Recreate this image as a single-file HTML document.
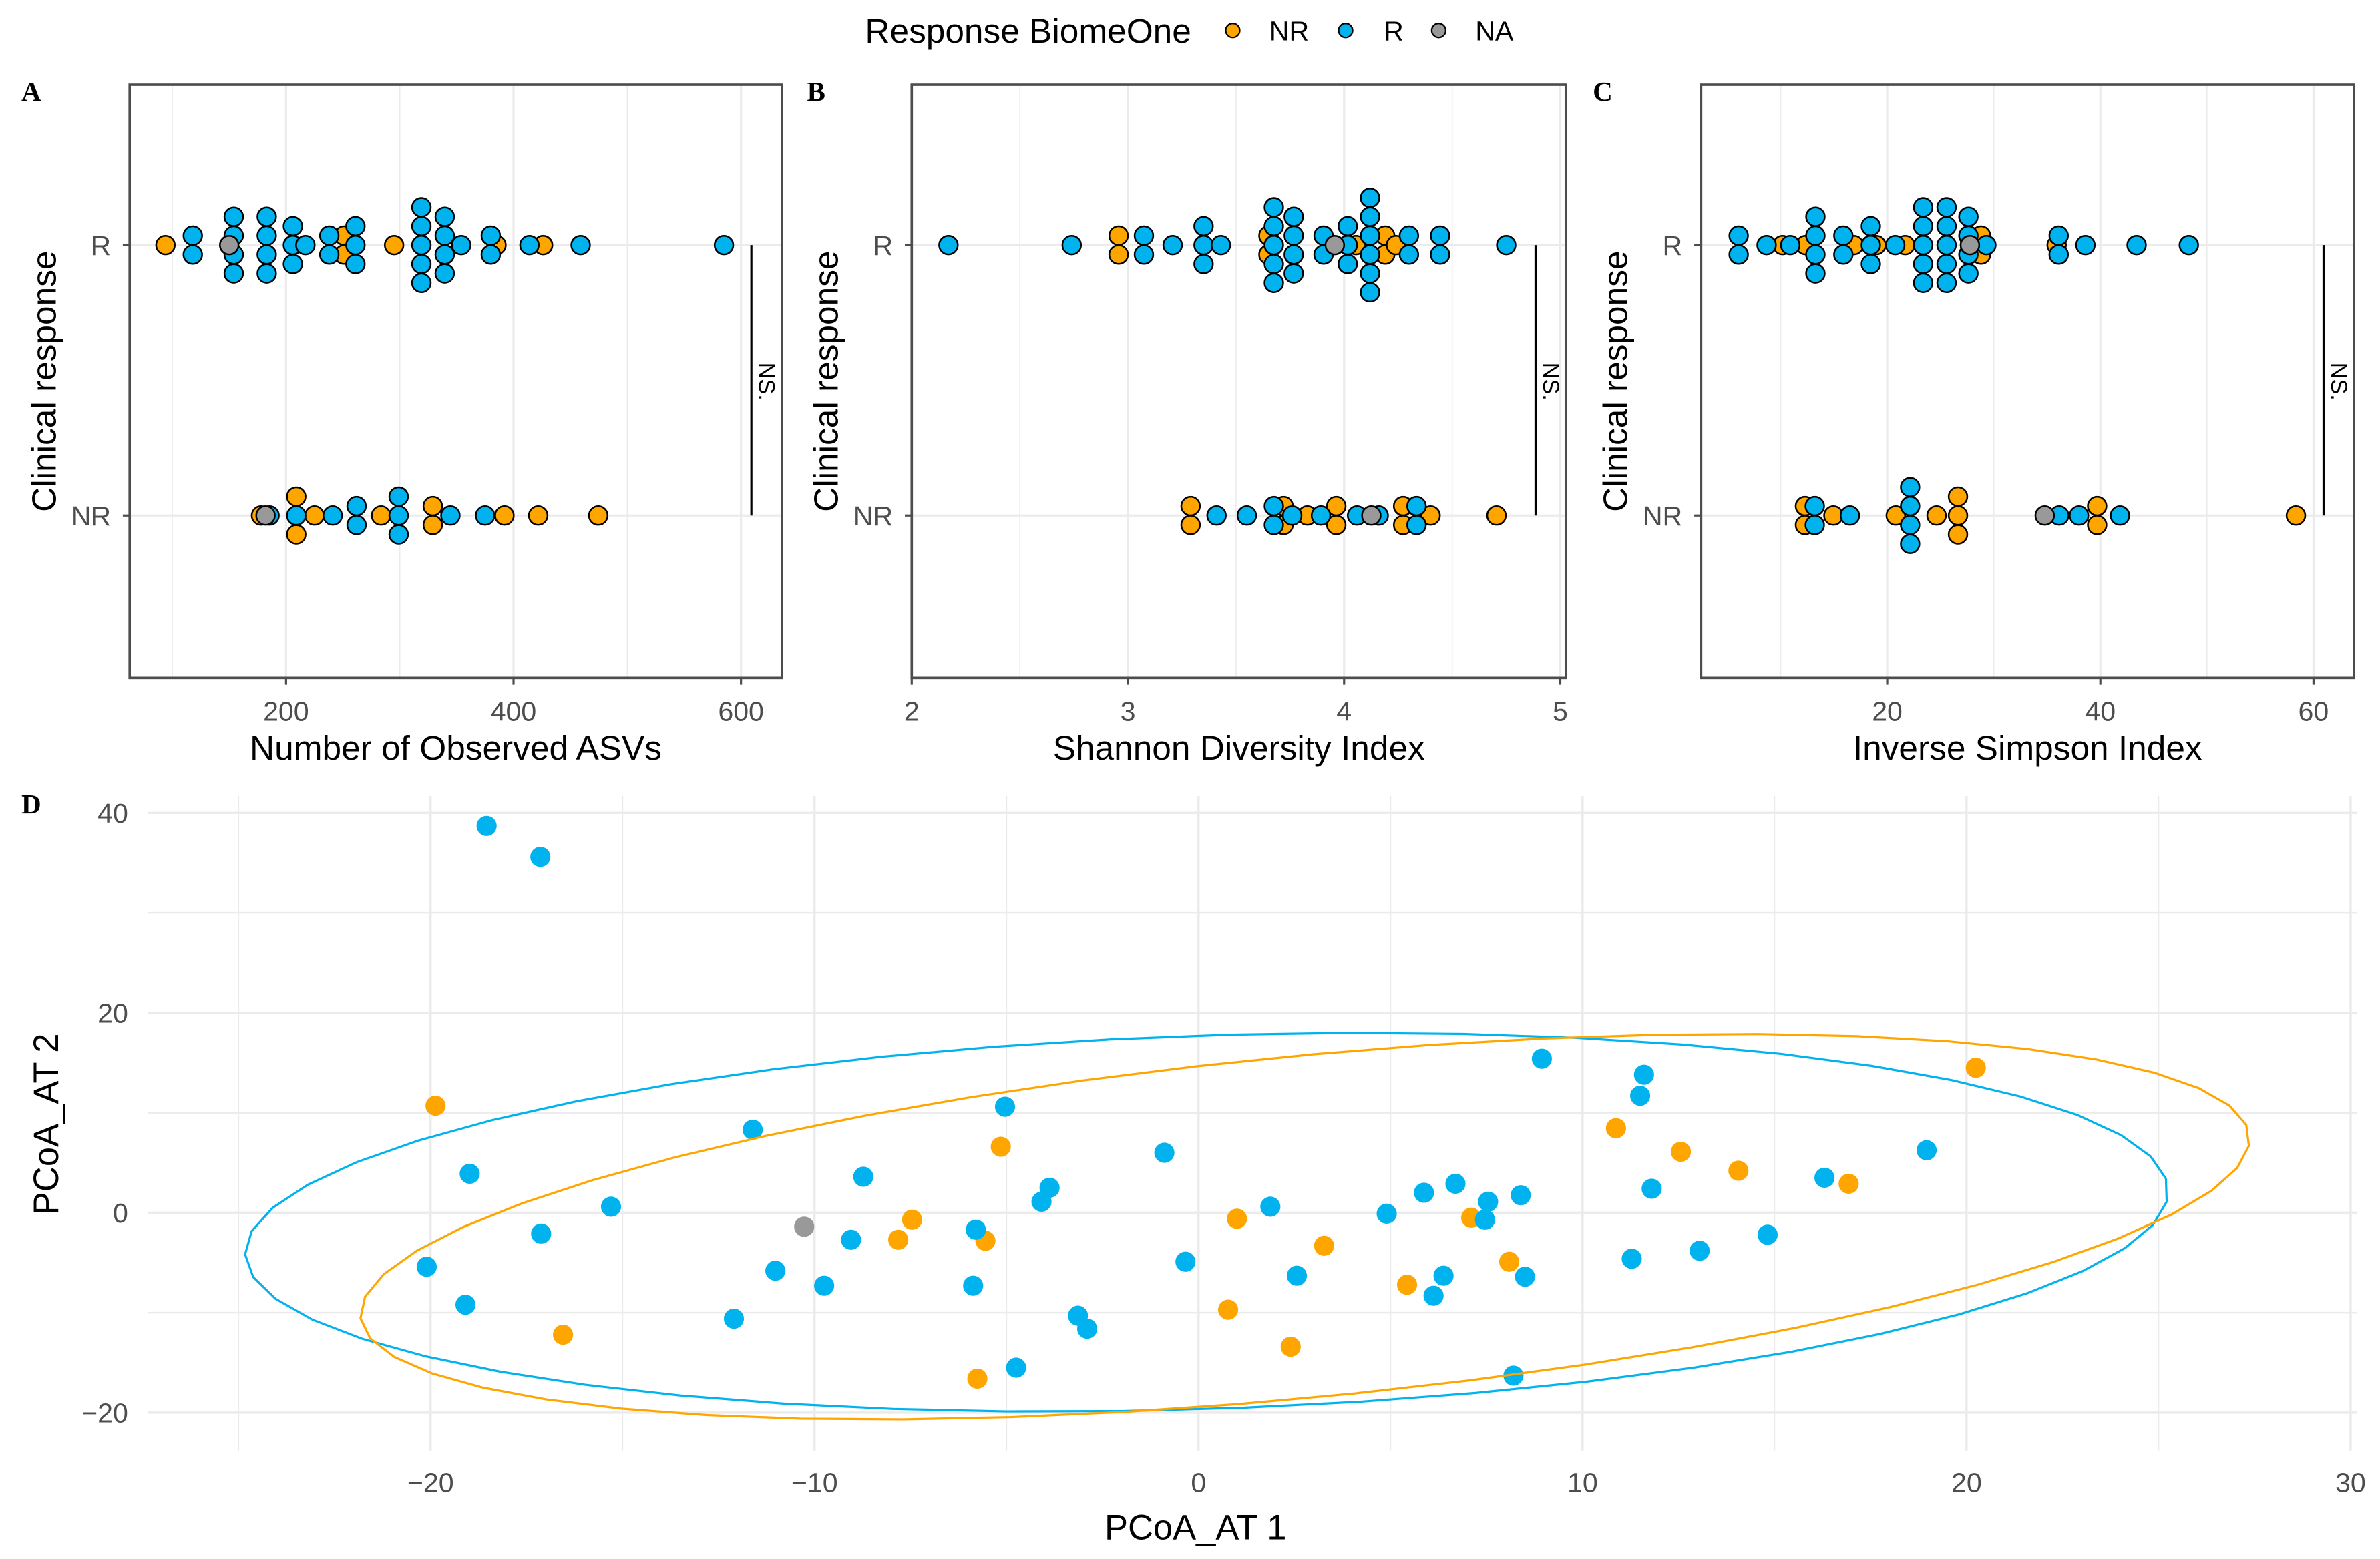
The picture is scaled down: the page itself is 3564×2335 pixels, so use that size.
<!DOCTYPE html>
<html><head><meta charset="utf-8"><style>
html,body{margin:0;padding:0;background:#fff}
svg{display:block}
text{font-family:"Liberation Sans",Arial,sans-serif}
</style></head><body>
<svg id="fig" xmlns="http://www.w3.org/2000/svg" width="3564" height="2335" viewBox="0 0 1560 1022" preserveAspectRatio="none">
<rect x="0" y="0" width="1560" height="1022" fill="#fff"/>
<g id="legend">
<text x="567" y="28" font-size="22.5" fill="#000">Response BiomeOne</text>
<circle cx="808" cy="20" r="4.6" fill="#FFA500" stroke="#000" stroke-width="1"/>
<text x="832" y="26.5" font-size="18">NR</text>
<circle cx="882" cy="20" r="4.6" fill="#00B2EE" stroke="#000" stroke-width="1"/>
<text x="907" y="26.5" font-size="18">R</text>
<circle cx="943" cy="20" r="4.6" fill="#999999" stroke="#000" stroke-width="1"/>
<text x="967" y="26.5" font-size="18">NA</text>
</g>
</svg>
<script>
// ---------- Panel A data (Observed ASVs) ----------
const aRVals = [94,118,118,150,154,154,154,154,183,183,183,183,206,206,206,217,238,238,251,251,261,261,261,295,319,319,319,319,319,339.5,339.5,339.5,339.5,354,380,380,385,414,426,459,585];
const aRGrp  = ['NR','R','R','NA','R','R','R','R','R','R','R','R','R','R','R','R','R','R','NR','NR','R','R','R','NR','R','R','R','R','R','R','R','R','R','R','R','R','NR','R','NR','R','R'];
const aNRVals = [178,182,185.5,209,209,209,225,241,262,262,283.5,299,299,299,329,329,344.5,375,392,421.7,474.5];
const aNRGrp  = ['NR','NA','R','NR','R','NR','NR','R','R','R','NR','R','R','R','NR','NR','R','R','NR','NR','NR'];
const aTicks = [200,400,600];
const aTickLabels = ['200','400','600'];
const aMinor = [100,300,500];
// ---------- Panel B data (Shannon) ----------
const bRVals = [2.17,2.74,2.957,2.957,3.074,3.074,3.207,3.35,3.35,3.35,3.43,3.65,3.65,3.675,3.675,3.675,3.675,3.675,3.767,3.767,3.767,3.767,3.905,3.905,3.957,4.017,4.017,4.017,4.055,4.12,4.12,4.12,4.12,4.12,4.12,4.19,4.19,4.24,4.30,4.30,4.444,4.444,4.75];
const bRGrp  = ['R','R','NR','NR','R','R','R','R','R','R','R','NR','NR','R','R','R','R','R','R','R','R','R','R','R','NA','R','R','R','NR','R','R','R','R','R','R','NR','NR','NR','R','R','R','R','R'];
const bNRVals = [3.29,3.29,3.41,3.55,3.675,3.675,3.72,3.72,3.76,3.83,3.893,3.964,3.964,4.06,4.126,4.16,4.273,4.273,4.335,4.335,4.40,4.705];
const bNRGrp  = ['NR','NR','R','R','R','R','NR','NR','R','NR','R','NR','NR','R','NA','R','NR','NR','R','R','NR','NR'];
const bTicks = [2,3,4,5];
const bTickLabels = ['2','3','4','5'];
const bMinor = [2.5,3.5,4.5];
// ---------- Panel C data (Inverse Simpson) ----------
const cRVals = [6.06,6.06,8.68,10.18,10.9,12.33,13.26,13.26,13.26,13.26,15.88,15.88,16.87,18.46,18.46,18.46,18.97,20.75,21.68,23.37,23.37,23.37,23.37,23.37,25.57,25.57,25.57,25.57,25.57,27.62,27.62,27.62,27.62,27.76,28.8,28.8,29.3,35.9,36.09,36.09,38.6,43.4,48.3];
const cRGrp  = ['R','R','R','NR','R','NR','R','R','R','R','R','R','NR','R','R','R','NR','R','NR','R','R','R','R','R','R','R','R','R','R','R','R','R','R','NA','NR','NR','R','NR','R','R','R','R','R'];
const cNRVals = [12.28,12.28,13.2,13.2,14.95,16.5,20.8,22.15,22.15,22.15,22.15,24.63,26.64,26.64,26.64,34.78,36.14,38.0,39.7,39.7,41.84,58.35];
const cNRGrp  = ['NR','NR','R','R','NR','R','NR','R','R','R','R','NR','NR','NR','NR','NA','R','R','NR','NR','R','NR'];
const cTicks = [20,40,60];
const cTickLabels = ['20','40','60'];
const cMinor = [10,30,50];
// ---------- Panel D data (PCoA) ----------
const pc1 = [-18.54,-17.14,-19.87,-11.61,-18.98,-15.3,-17.12,-20.1,-19.09,-16.55,-5.04,-5.15,-0.89,-8.73,-3.88,-4.09,-10.27,-7.46,-7.82,-9.05,-5.8,-5.55,-11.02,-9.75,-5.87,-12.1,-3.14,-2.9,-4.75,-5.76,-0.34,1.0,1.87,3.27,2.56,0.77,2.4,4.9,5.87,6.69,7.1,7.46,7.54,8.39,6.38,6.12,5.43,8.09,8.5,8.2,8.94,11.6,11.5,10.87,12.56,14.06,18.96,16.3,16.93,20.24,11.8,14.82,13.05,11.28];
const pc2 = [38.7,35.6,10.7,8.3,3.9,0.6,-2.1,-5.4,-9.2,-12.2,10.6,6.6,6.0,3.6,2.5,1.1,-1.4,-0.7,-2.7,-2.7,-1.7,-2.8,-5.8,-7.3,-7.3,-10.6,-10.3,-11.6,-15.5,-16.6,-4.9,-0.6,0.6,-3.3,-6.3,-9.7,-13.4,-0.1,2.0,2.9,-0.5,-0.7,1.1,1.75,-6.3,-8.3,-7.2,-4.9,-6.4,-16.3,15.4,13.8,11.7,8.45,6.1,4.2,6.25,3.5,2.9,14.5,2.4,-2.2,-3.8,-4.6];
const pcGrp = ['R','R','NR','R','R','R','R','R','R','NR','R','NR','R','R','R','R','NA','NR','NR','R','R','NR','R','R','R','R','R','R','R','NR','R','NR','R','NR','R','NR','NR','R','R','R','NR','R','R','R','R','R','NR','NR','R','R','R','R','R','NR','NR','NR','R','R','NR','NR','R','R','R','R'];
const dXTicks = [-20,-10,0,10,20,30];
const dXTickLabels = ['\u221220','\u221210','0','10','20','30'];
const dXMinor = [-25,-15,-5,5,15,25];
const dYTicks = [40,20,0,-20];
const dYTickLabels = ['40','20','0','\u221220'];
const dYMinor = [30,10,-10];

const NS='http://www.w3.org/2000/svg';
const svg=document.getElementById('fig');
const COL={NR:'#FFA500',R:'#00B2EE',NA:'#999999'};
function mk(tag,attrs,parent){const e=document.createElementNS(NS,tag);for(const k in attrs)e.setAttribute(k,attrs[k]);(parent||svg).appendChild(e);return e;}
const SERIF='font-family:"Liberation Serif","DejaVu Serif",serif;font-weight:bold';

function dotPanel(cfg){
  const g=mk('g',{});
  
  
  const top=55.6,bot=444.4,yR=160.7,yNR=338;
  const X=v=>cfg.x0+(v-cfg.v0)*cfg.k;
  cfg.minor.forEach(v=>{const l=mk('line',{x1:X(v),x2:X(v),y1:top,y2:bot,stroke:'#ebebeb','stroke-width':0.7},g);
    
    });
  cfg.ticks.forEach(v=>{const l=mk('line',{x1:X(v),x2:X(v),y1:top,y2:bot,stroke:'#ebebeb','stroke-width':1.4},g);
    
    });
  [yR,yNR].forEach(y=>{const l=mk('line',{x1:cfg.left,x2:cfg.right,y1:y,y2:y,stroke:'#ebebeb','stroke-width':1.4},g);
    
    });
  const sp=12.4;
  const rows=[[cfg.rV,cfg.rG,yR],[cfg.nV,cfg.nG,yNR]];
  ['NR','R','NA'].forEach(grp=>{
    rows.forEach(([vals,grps,yc])=>{
      const groups={};
      vals.forEach((v,i)=>{(groups[v]=groups[v]||[]).push(i);});
      Object.keys(groups).forEach(key=>{
        const idx=groups[key];const n=idx.length;
        idx.forEach((i,j)=>{
          if(grps[i]!==grp)return;
          const c=mk('circle',{cx:X(vals[i]),cy:yc+(j-(n-1)/2)*sp,r:6.1,fill:COL[grp],stroke:'#000','stroke-width':1.1},g);
          
          
        });
      });
    });
  });
  const b=mk('rect',{x:cfg.left,y:top,width:cfg.right-cfg.left,height:bot-top,fill:'none',stroke:'#4d4d4d','stroke-width':1.6},g);
  
  
  cfg.ticks.forEach((v,i)=>{
    const t=mk('line',{x1:X(v),x2:X(v),y1:bot,y2:bot+4.5,stroke:'#4d4d4d','stroke-width':1.4},g);
    
    
    const tx=mk('text',{x:X(v),y:472.5,'font-size':18,fill:'#4d4d4d','text-anchor':'middle'},g);
    tx.textContent=cfg.labels[i];
    
    
  });
  [['R',yR],['NR',yNR]].forEach(([lab,y])=>{
    const t=mk('line',{x1:cfg.left-4.5,x2:cfg.left,y1:y,y2:y,stroke:'#4d4d4d','stroke-width':1.4},g);
    
    
    const tx=mk('text',{x:cfg.left-12.3,y:y+6.4,'font-size':18,fill:'#4d4d4d','text-anchor':'end'},g);
    tx.textContent=lab;
    
    
  });
  const xt=mk('text',{x:(cfg.left+cfg.right)/2,y:498,'font-size':22.5,'text-anchor':'middle'},g);
  xt.textContent=cfg.xtitle;
  
  
  const yt=mk('text',{x:0,y:0,'font-size':22.5,'text-anchor':'middle',transform:`translate(${cfg.left-48.5},250) rotate(-90)`},g);
  yt.textContent='Clinical response';
  
  
  const nl=mk('line',{x1:cfg.right-20,x2:cfg.right-20,y1:yR,y2:yNR,stroke:'#000','stroke-width':1.4},g);
  
  
  const nt=mk('text',{x:0,y:0,'font-size':15,'text-anchor':'middle',transform:`translate(${cfg.right-15},250) rotate(90)`},g);
  nt.textContent='NS.';
  
  
  const pl=mk('text',{x:cfg.letterX,y:66,'font-size':18,style:SERIF},g);
  pl.textContent=cfg.letter;
  
  
}

dotPanel({name:'panel-a-observed-asvs',letter:'A',letterX:14,left:85,right:512.5,x0:187.5,v0:200,k:0.7455,ticks:aTicks,labels:aTickLabels,minor:aMinor,rV:aRVals,rG:aRGrp,nV:aNRVals,nG:aNRGrp,xtitle:'Number of Observed ASVs'});
dotPanel({name:'panel-b-shannon',letter:'B',letterX:529,left:597.6,right:1026.5,x0:597.6,v0:2,k:141.7,ticks:bTicks,labels:bTickLabels,minor:bMinor,rV:bRVals,rG:bRGrp,nV:bNRVals,nG:bNRGrp,xtitle:'Shannon Diversity Index'});
dotPanel({name:'panel-c-inverse-simpson',letter:'C',letterX:1044,left:1115,right:1543,x0:1237,v0:20,k:6.985,ticks:cTicks,labels:cTickLabels,minor:cMinor,rV:cRVals,rG:cRGrp,nV:cNRVals,nG:cNRGrp,xtitle:'Inverse Simpson Index'});

(function(){
  const g=mk('g',{});
  
  
  const L=97,R=1545,T=521.7,B=951;
  const X=v=>785.6+v*25.17, Y=v=>795-v*6.555;
  dXMinor.forEach(v=>{const l=mk('line',{x1:X(v),x2:X(v),y1:T,y2:B,stroke:'#ebebeb','stroke-width':0.8},g);
    
    });
  dYMinor.forEach(v=>{const l=mk('line',{x1:L,x2:R,y1:Y(v),y2:Y(v),stroke:'#ebebeb','stroke-width':1.1},g);
    
    });
  dXTicks.forEach(v=>{const l=mk('line',{x1:X(v),x2:X(v),y1:T,y2:B,stroke:'#ebebeb','stroke-width':1.5},g);
    
    });
  dYTicks.forEach(v=>{const l=mk('line',{x1:L,x2:R,y1:Y(v),y2:Y(v),stroke:'#ebebeb','stroke-width':1.5},g);
    
    });
  ['NR','R','NA'].forEach(grp=>{
    pc1.forEach((v,i)=>{
      if(pcGrp[i]!==grp)return;
      const c=mk('circle',{cx:X(v),cy:Y(pc2[i]),r:6.6,fill:COL[grp]},g);
      
      
    });
  });
  const ells=[{grp:'R',cx:0.21,cy:-0.95,a:25.45,b:18.39,th:15},{grp:'NR',cx:2.77,cy:-1.4,a:27.09,b:15.59,th:30.8}];
  ells.forEach(e=>{
    const pts=[];const t=e.th*Math.PI/180;
    for(let i=0;i<=51;i++){const p=2*Math.PI*i/51;
      const u=e.a*Math.cos(p),w=e.b*Math.sin(p);
      pts.push(X(e.cx+u*Math.cos(t)-w*Math.sin(t)).toFixed(2)+','+Y(e.cy+u*Math.sin(t)+w*Math.cos(t)).toFixed(2));}
    const pl=mk('polygon',{points:pts.join(' '),fill:'none',stroke:COL[e.grp],'stroke-width':1.4},g);
    
    
  });
  dXTicks.forEach((v,i)=>{const tx=mk('text',{x:X(v),y:978,'font-size':18,fill:'#4d4d4d','text-anchor':'middle'},g);
    tx.textContent=dXTickLabels[i];
    
    });
  dYTicks.forEach((v,i)=>{const tx=mk('text',{x:84,y:Y(v)+6.4,'font-size':18,fill:'#4d4d4d','text-anchor':'end'},g);
    tx.textContent=dYTickLabels[i];
    
    });
  const xt=mk('text',{x:X(0)-2,y:1009,'font-size':23,'text-anchor':'middle'},g);
  xt.textContent='PCoA_AT 1';
  
  
  const yt=mk('text',{x:0,y:0,'font-size':23,'text-anchor':'middle',transform:'translate(38,737) rotate(-90)'},g);
  yt.textContent='PCoA_AT 2';
  
  
  const pl=mk('text',{x:14,y:533,'font-size':18,style:SERIF},g);
  pl.textContent='D';
  
  
})();
</script>
</body></html>
